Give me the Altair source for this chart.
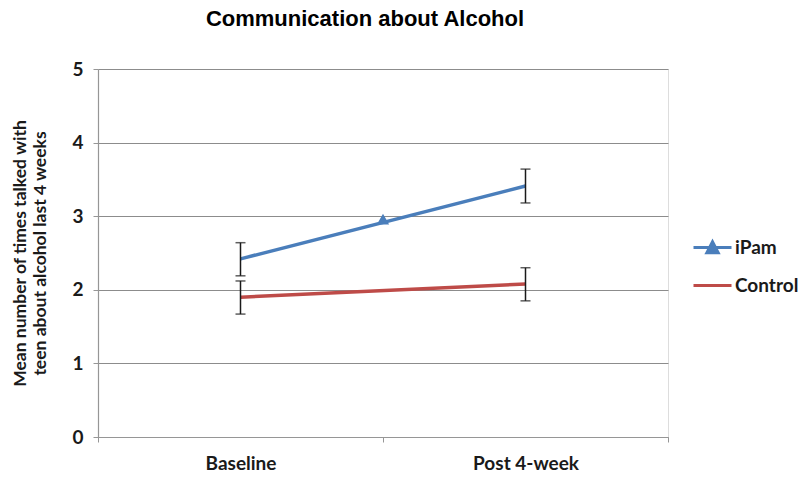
import altair as alt
import pandas as pd

categories = ["Baseline", "Post 4-week"]
series = ["iPam", "Control"]
ipam_mean = [2.42, 3.41]
ipam_lo = [2.19, 3.18]
ipam_hi = [2.64, 3.64]
control_mean = [1.90, 2.08]
control_lo = [1.67, 1.85]
control_hi = [2.12, 2.30]
ipam_marker = 2.96  # marker drawn between the categories

rows = []
for i, c in enumerate(categories):
    rows.append({"cat": c, "x": i + 0.5, "series": "iPam", "y": ipam_mean[i], "lo": ipam_lo[i], "hi": ipam_hi[i]})
    rows.append({"cat": c, "x": i + 0.5, "series": "Control", "y": control_mean[i], "lo": control_lo[i], "hi": control_hi[i]})
df = pd.DataFrame(rows)
marker_df = pd.DataFrame({"x": [1.0], "y": [ipam_marker], "series": ["iPam"]})

colors = ["#4A7EBB", "#BE4B48"]
FONT = "Lato"

xscale = alt.Scale(domain=[0, 2], nice=False, zero=False)
yscale = alt.Scale(domain=[0, 5], nice=False)

label_expr = "datum.value == 0.5 ? 'Baseline' : (datum.value == 1.5 ? 'Post 4-week' : '')"

x_enc = alt.X("x:Q", scale=xscale, axis=alt.Axis(
    values=[0, 0.5, 1, 1.5, 2], labelExpr=label_expr, title=None, grid=False,
    domainColor="#969696", domainWidth=1.2,
    tickColor={"expr": "datum.value % 1 == 0 ? '#969696' : 'transparent'"},
    tickSize=5, labelFont=FONT, labelFontWeight="bold", labelFontSize=19,
    labelColor="#1a1a1a", labelPadding=12))
y_enc = alt.Y("y:Q", scale=yscale, axis=alt.Axis(
    values=[0, 1, 2, 3, 4, 5], format="d", grid=True, gridColor="#8c8c8c", gridWidth=1,
    domainColor="#969696", domainWidth=1.2, tickColor="#969696", tickSize=5,
    labelFont=FONT, labelFontWeight="bold", labelFontSize=19, labelColor="#1a1a1a",
    labelPadding=10,
    title=["Mean number of times talked with", "teen about alcohol last 4 weeks"],
    titleFont=FONT, titleFontWeight="bold", titleFontSize=17.5, titleColor="#1a1a1a",
    titlePadding=22, titleLineHeight=20))

cscale = alt.Scale(domain=series, range=colors)
tri_path = "M-1,0L1,0M-0.3,0.28L0,-0.3L0.3,0.28Z"
line_path = "M-1,0L1,0"
leg = alt.Legend(
    title=None, orient="none", legendX=594, legendY=158, labelFont=FONT,
    labelFontWeight="bold", labelFontSize=19, labelColor="#1a1a1a",
    symbolOpacity=1, symbolSize=1444, symbolStrokeWidth=3, rowPadding=6,
    symbolFillColor="#4A7EBB", labelOffset=2)

base = alt.Chart(df)

lines = base.mark_line(strokeWidth=3.5).encode(
    x=x_enc, y=y_enc, color=alt.Color("series:N", scale=cscale, legend=leg), detail="series:N")

err = base.mark_rule(color="#1a1a1a", strokeWidth=1.5).encode(x="x:Q", y="lo:Q", y2="hi:Q")
caps_lo = base.mark_tick(color="#1a1a1a", orient="horizontal", size=10, thickness=1.5).encode(x="x:Q", y="lo:Q")
caps_hi = base.mark_tick(color="#1a1a1a", orient="horizontal", size=10, thickness=1.5).encode(x="x:Q", y="hi:Q")

marker = alt.Chart(marker_df).mark_point(shape="triangle-up", filled=True, size=150, opacity=1).encode(
    x="x:Q", y="y:Q", color=alt.Color("series:N", scale=cscale))

legend_layer = base.mark_point(filled=False, opacity=0, strokeWidth=3).encode(
    x="x:Q", y="y:Q",
    color=alt.Color("series:N", scale=cscale, legend=leg),
    shape=alt.Shape("series:N", scale=alt.Scale(domain=series, range=[tri_path, line_path]), legend=leg),
)

chart = alt.layer(legend_layer, lines, err, caps_lo, caps_hi, marker).properties(
    width=570, height=368,
    title=alt.TitleParams("Communication about Alcohol", font="Liberation Sans", fontSize=22,
                          fontWeight="bold", color="#000000", anchor="middle", dx=-18, offset=29),
    autosize=alt.AutoSizeParams(type="none"),
    padding={"left": 98, "top": 69, "right": 135, "bottom": 44},
).configure_view(stroke=None).configure(background="white")

chart.save("out.html", embed_options={"renderer": "svg", "actions": False})
